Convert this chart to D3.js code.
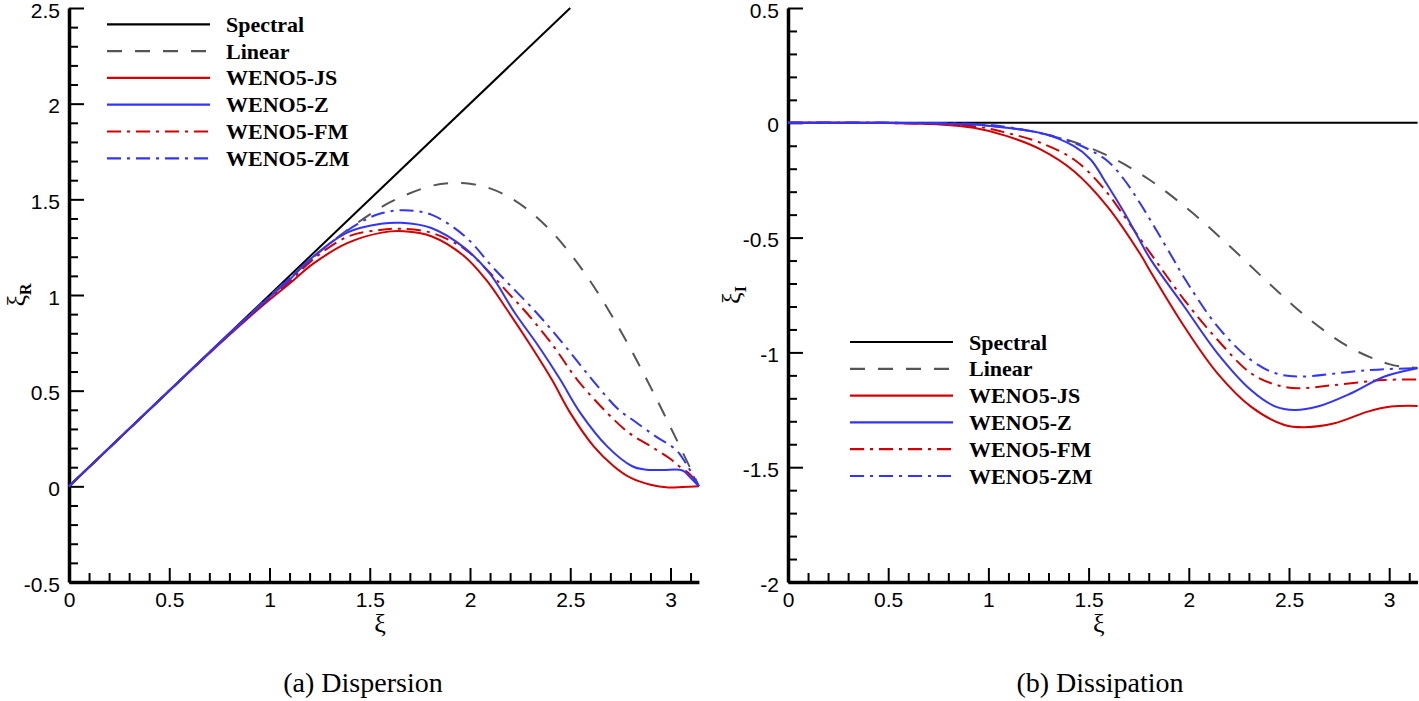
<!DOCTYPE html>
<html><head><meta charset="utf-8">
<script src="https://cdn.jsdelivr.net/npm/d3@7/dist/d3.min.js"></script>
<style>body{margin:0;background:#fff}svg{display:block}
.serif{font-family:"Liberation Serif","Times New Roman",Times,"DejaVu Serif",serif;}
</style>
</head><body>
<svg id="chart" width="1419" height="701"></svg>
<script>
// ---------- data ----------
const seriesNames = ["Spectral", "Linear", "WENO5-JS", "WENO5-Z", "WENO5-FM", "WENO5-ZM"];

// Dispersion (real part) [xi, xi_R]
const spectralR = [[0,0],[2.5,2.5]];
const linearR = [[0,0],[0.5,0.5],[0.8,0.799],[1.0,0.994],[1.2,1.181],[1.34,1.301],[1.4,1.349],[1.6,1.484],[1.8,1.568],[1.9,1.585],[2.0,1.582],[2.1,1.557],[2.2,1.509],[2.3,1.436],[2.4,1.339],[2.5,1.217],[2.6,1.072],[2.7,0.905],[2.8,0.72],[2.9,0.52],[3.0,0.309],[3.1,0.092],[3.1416,0]];
const jsR = [[0,0],[0.5,0.5],[0.7,0.696],[0.9,0.885],[1.0,0.975],[1.1,1.06],[1.22,1.165],[1.39,1.272],[1.56,1.326],[1.67,1.333],[1.81,1.306],[1.97,1.204],[2.08,1.08],[2.19,0.915],[2.305,0.732],[2.408,0.558],[2.5,0.384],[2.617,0.209],[2.717,0.105],[2.8,0.045],[2.9,0.008],[2.99,-0.006],[3.06,-0.004],[3.1416,0]];
const zR = [[0,0],[0.5,0.5],[0.8,0.797],[1.0,0.988],[1.1,1.08],[1.22,1.203],[1.39,1.327],[1.557,1.372],[1.657,1.377],[1.807,1.35],[1.974,1.245],[2.1,1.11],[2.224,0.906],[2.342,0.732],[2.45,0.558],[2.55,0.384],[2.684,0.209],[2.809,0.105],[2.87,0.088],[2.96,0.085],[3.06,0.083],[3.1,0.045],[3.1416,0]];
const fmR = [[0,0],[0.5,0.5],[0.8,0.794],[1.0,0.982],[1.1,1.07],[1.222,1.19],[1.39,1.305],[1.55,1.34],[1.65,1.346],[1.807,1.325],[1.974,1.24],[2.1,1.115],[2.2,1.0],[2.283,0.906],[2.417,0.732],[2.534,0.558],[2.684,0.384],[2.793,0.279],[2.901,0.209],[2.993,0.148],[3.043,0.105],[3.1,0.06],[3.1416,0]];
const zmR = [[0,0],[0.5,0.5],[0.8,0.798],[1.0,0.99],[1.2,1.183],[1.34,1.3],[1.44,1.372],[1.55,1.425],[1.673,1.443],[1.807,1.42],[1.974,1.307],[2.124,1.133],[2.333,0.906],[2.475,0.732],[2.609,0.558],[2.742,0.4],[2.809,0.349],[2.926,0.261],[3.026,0.192],[3.076,0.122],[3.1416,0]];

// Dissipation (imaginary part) [xi, xi_I]
const spectralI = [[0,0],[3.1416,0]];
const linearI = [[0,0],[0.5,-0.0003],[0.8,-0.004],[1.0,-0.013],[1.2,-0.035],[1.4,-0.076],[1.6,-0.145],[1.8,-0.246],[2.0,-0.379],[2.2,-0.534],[2.4,-0.699],[2.6,-0.854],[2.8,-0.977],[3.0,-1.051],[3.1,-1.065],[3.1416,-1.067]];
const jsI = [[0,0],[0.5,-0.001],[0.76,-0.007],[0.927,-0.022],[1.093,-0.058],[1.26,-0.116],[1.427,-0.211],[1.593,-0.364],[1.76,-0.575],[1.81,-0.65],[1.977,-0.887],[2.143,-1.091],[2.31,-1.236],[2.477,-1.316],[2.577,-1.326],[2.727,-1.309],[2.893,-1.258],[3.01,-1.236],[3.1416,-1.233]];
const zI = [[0,0],[0.5,0],[0.927,-0.007],[1.093,-0.022],[1.26,-0.044],[1.427,-0.102],[1.51,-0.16],[1.593,-0.27],[1.677,-0.39],[1.76,-0.52],[1.81,-0.596],[1.977,-0.8],[2.143,-1.004],[2.31,-1.164],[2.43,-1.235],[2.527,-1.251],[2.643,-1.236],[2.81,-1.178],[2.977,-1.105],[3.1416,-1.069]];
const fmI = [[0,0],[0.5,-0.001],[0.927,-0.015],[1.093,-0.044],[1.26,-0.087],[1.427,-0.16],[1.56,-0.27],[1.677,-0.405],[1.76,-0.509],[1.81,-0.57],[1.977,-0.771],[2.143,-0.945],[2.31,-1.091],[2.43,-1.14],[2.543,-1.156],[2.727,-1.142],[2.977,-1.12],[3.1416,-1.118]];
const zmI = [[0,0],[0.5,0],[0.927,-0.005],[1.093,-0.018],[1.26,-0.045],[1.343,-0.064],[1.427,-0.087],[1.51,-0.12],[1.593,-0.165],[1.677,-0.247],[1.76,-0.355],[1.843,-0.475],[1.927,-0.6],[1.977,-0.675],[2.143,-0.887],[2.31,-1.033],[2.43,-1.09],[2.56,-1.105],[2.81,-1.084],[2.977,-1.073],[3.1416,-1.069]];

// ticks
const xMajorTicks = [0, 0.5, 1, 1.5, 2, 2.5, 3];
const xTickLabels = ["0", "0.5", "1", "1.5", "2", "2.5", "3"];
const yMajorTicksR = [-0.5, 0, 0.5, 1, 1.5, 2, 2.5];
const yTickLabelsR = ["-0.5", "0", "0.5", "1", "1.5", "2", "2.5"];
const yMajorTicksI = [-2, -1.5, -1, -0.5, 0, 0.5];
const yTickLabelsI = ["-2", "-1.5", "-1", "-0.5", "0", "0.5"];

// ---------- styles ----------
const RED = "#d40000", BLUE = "#3333ff", GRAY = "#555555";
const SANS = "'Liberation Sans', Arial, sans-serif";
const styles = [
  {color: "#000", dash: null},
  {color: GRAY, dash: "15,13"},
  {color: RED, dash: null},
  {color: BLUE, dash: null},
  {color: RED, dash: "14,6,3,6"},
  {color: BLUE, dash: "14,6,3,6"}
];
const drawOrder = [0, 1, 2, 4, 5, 3];

const svg = d3.select("#chart");
const TOP = 8, BOTTOM = 582;

function panel(cfg) {
  const x = d3.scaleLinear().domain([0, Math.PI]).range([cfg.x0, cfg.x1]);
  const y = d3.scaleLinear().domain(cfg.yDomain).range([BOTTOM, TOP]);
  const g = svg.append("g");

  // minor ticks
  const xMinor = d3.range(1, 32).map(i => i / 10).filter(v => Math.abs(v * 2 - Math.round(v * 2)) > 1e-6);
  const yMinor = d3.range(Math.round(cfg.yDomain[0] * 10), Math.round(cfg.yDomain[1] * 10) + 1)
    .map(i => i / 10).filter(v => Math.abs(v * 2 - Math.round(v * 2)) > 1e-6);

  g.append("g").attr("transform", `translate(0,${BOTTOM})`)
    .call(d3.axisBottom(x).tickValues(xMinor).tickSize(-9).tickFormat(""))
    .call(a => a.select(".domain").remove())
    .selectAll("line").attr("stroke-width", 2);
  g.append("g").attr("transform", `translate(${cfg.x0},0)`)
    .call(d3.axisLeft(y).tickValues(yMinor).tickSize(-9).tickFormat(""))
    .call(a => a.select(".domain").remove())
    .selectAll("line").attr("stroke-width", 2);

  const xa = g.append("g").attr("transform", `translate(0,${BOTTOM})`)
    .call(d3.axisBottom(x).tickValues(xMajorTicks).tickSize(-14).tickSizeOuter(0).tickPadding(10)
      .tickFormat((d, i) => xTickLabels[i]));
  xa.select(".domain").attr("stroke-width", 3.5);
  xa.selectAll("line").attr("stroke-width", 2);
  xa.selectAll("text").attr("font-family", SANS).attr("font-size", 21).attr("fill", "#000");

  const ya = g.append("g").attr("transform", `translate(${cfg.x0},0)`)
    .call(d3.axisLeft(y).tickValues(cfg.yTicks).tickSize(-15).tickSizeOuter(0).tickPadding(9)
      .tickFormat((d, i) => cfg.yLabels[i]));
  ya.select(".domain").attr("stroke-width", 3.5);
  ya.selectAll("line").attr("stroke-width", 2);
  ya.selectAll("text").attr("font-family", SANS).attr("font-size", 21).attr("fill", "#000").attr("dy", "0.43em");

  // curves
  const line = d3.line().x(d => x(d[0])).y(d => y(d[1])).curve(d3.curveCatmullRom.alpha(0.5));
  drawOrder.forEach(k => {
    const st = styles[k];
    g.append("path").datum(cfg.series[k]).attr("d", line)
      .attr("fill", "none").attr("stroke", st.color).attr("stroke-width", 2)
      .attr("stroke-dasharray", st.dash);
  });

  // legend
  const lg = g.append("g");
  seriesNames.forEach((name, i) => {
    const ly = cfg.legY + i * 26.8;
    const st = styles[i];
    lg.append("line").attr("x1", cfg.legX).attr("x2", cfg.legX + 103).attr("y1", ly).attr("y2", ly)
      .attr("stroke", st.color).attr("stroke-width", 2.2).attr("stroke-dasharray", st.dash);
    lg.append("text").attr("class", "serif").attr("x", cfg.legX + 119).attr("y", ly + 7.5).text(name)
      .attr("font-weight", "bold").attr("font-size", 22).attr("fill", "#000");
  });

  // axis titles
  g.append("text").attr("class", "serif").attr("x", (cfg.x0 + cfg.x1) / 2 - 4).attr("y", 632)
    .attr("text-anchor", "middle").attr("font-size", 26).text("ξ");
  const yt = g.append("text").attr("class", "serif")
    .attr("transform", `translate(${cfg.x0 - cfg.yTitleOff},${(TOP + BOTTOM) / 2}) rotate(-90)`)
    .attr("text-anchor", "middle").attr("font-size", 26);
  yt.append("tspan").text("ξ");
  yt.append("tspan").attr("font-size", 16).attr("font-weight", "bold").attr("dy", 6).text(cfg.ySub);

  // caption
  g.append("text").attr("class", "serif").attr("x", cfg.capX).attr("y", 692).attr("text-anchor", "middle")
    .attr("font-size", 28).attr("font-weight", "normal").attr("fill", "#000").text(cfg.caption);
}

panel({x0: 69, x1: 69 + 200.5 * Math.PI, yDomain: [-0.5, 2.5], yTicks: yMajorTicksR, yLabels: yTickLabelsR,
  series: [spectralR, linearR, jsR, zR, fmR, zmR], legX: 107, legY: 24.3, ySub: "R", yTitleOff: 44,
  caption: "(a) Dispersion", capX: 363});
panel({x0: 788, x1: 788 + 200.4 * Math.PI, yDomain: [-2, 0.5], yTicks: yMajorTicksI, yLabels: yTickLabelsI,
  series: [spectralI, linearI, jsI, zI, fmI, zmI], legX: 850, legY: 342, ySub: "I", yTitleOff: 48,
  caption: "(b) Dissipation", capX: 1100});
</script>
</body></html>
